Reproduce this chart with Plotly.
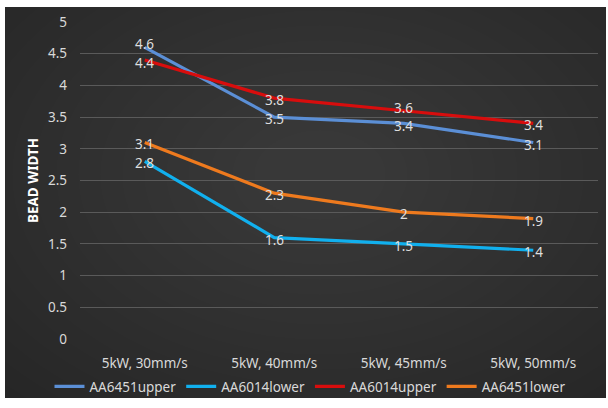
import plotly.graph_objects as go

categories = ["5kW, 30mm/s", "5kW, 40mm/s", "5kW, 45mm/s", "5kW, 50mm/s"]
series_names = ["AA6451upper", "AA6014lower", "AA6014upper", "AA6451lower"]
aa6451_upper = [4.6, 3.5, 3.4, 3.1]
aa6014_lower = [2.8, 1.6, 1.5, 1.4]
aa6014_upper = [4.4, 3.8, 3.6, 3.4]
aa6451_lower = [3.1, 2.3, 2.0, 1.9]
y_ticks = [0, 0.5, 1, 1.5, 2, 2.5, 3, 3.5, 4, 4.5, 5]

series_values = [aa6451_upper, aa6014_lower, aa6014_upper, aa6451_lower]
colors = ["#5b8fd6", "#11b0ee", "#d80d0d", "#ee7a1e"]
# small vertical nudges (px) for the value labels of each series, per point
label_shift = [[3, -2, -3, -3], [-2, -2, -2, -2], [-3, -2, 3, -2], [-2, -2, -2, -2]]

font_family = "Noto Sans, Open Sans, sans-serif"

fig = go.Figure()
annotations = []
for name, vals, col, shifts in zip(series_names, series_values, colors, label_shift):
    fig.add_trace(go.Scatter(
        x=categories, y=vals, name=name, mode="lines",
        line=dict(color=col, width=3.2),
    ))
    for c, v, s in zip(categories, vals, shifts):
        annotations.append(dict(x=c, y=v, xref="x", yref="y", text="%g" % v,
                                showarrow=False, yshift=s,
                                font=dict(color="#dedede", size=13.5, family=font_family)))

W, H = 608, 408
ml, mr, mt, mb = 80, 10, 22, 69
pw, ph = W - ml - mr, H - mt - mb

def px_x(p):
    return (p - ml) / pw

def px_y(p):
    return (H - mb - p) / ph

shapes = [dict(type="rect", xref="paper", yref="paper",
               x0=px_x(5), x1=px_x(606), y0=px_y(398), y1=px_y(7),
               fillcolor="#262626", line=dict(width=0), layer="below")]
cx, cy = 320, 175
n = 18
for i in range(n):
    rx = 440 - i * 22
    ry = 300 - i * 15
    shapes.append(dict(type="circle", xref="paper", yref="paper",
                       x0=px_x(cx - rx), x1=px_x(cx + rx),
                       y0=px_y(cy + ry), y1=px_y(cy - ry),
                       fillcolor="rgba(255,255,255,0.0095)", line=dict(width=0),
                       layer="below"))
# clip the glow back to the white outer margin
shapes += [
    dict(type="rect", xref="paper", yref="paper", x0=px_x(-200), x1=px_x(5),
         y0=px_y(600), y1=px_y(-200), fillcolor="white", line=dict(width=0), layer="below"),
    dict(type="rect", xref="paper", yref="paper", x0=px_x(606), x1=px_x(800),
         y0=px_y(600), y1=px_y(-200), fillcolor="white", line=dict(width=0), layer="below"),
    dict(type="rect", xref="paper", yref="paper", x0=px_x(-200), x1=px_x(800),
         y0=px_y(7), y1=px_y(-200), fillcolor="white", line=dict(width=0), layer="below"),
    dict(type="rect", xref="paper", yref="paper", x0=px_x(-200), x1=px_x(800),
         y0=px_y(600), y1=px_y(398), fillcolor="white", line=dict(width=0), layer="below"),
]

fig.update_layout(
    width=W, height=H,
    margin=dict(l=ml, r=mr, t=mt, b=mb, autoexpand=False),
    paper_bgcolor="white",
    plot_bgcolor="rgba(0,0,0,0)",
    shapes=shapes,
    annotations=annotations,
    font=dict(family=font_family, size=13, color="#d9d9d9"),
    showlegend=True,
    legend=dict(orientation="h", x=0.444, xanchor="center", y=px_y(371), yanchor="top",
                font=dict(size=13.5, color="#d9d9d9"), bgcolor="rgba(0,0,0,0)",
                itemwidth=30, tracegroupgap=0),
    xaxis=dict(type="category", range=[-0.5, 3.5], showgrid=False, zeroline=False,
               showline=False, ticks="", ticklabelstandoff=14,
               tickfont=dict(size=13.5, color="#d9d9d9")),
    yaxis=dict(range=[0, 5], tickvals=y_ticks, ticktext=["%g" % t for t in y_ticks],
               showgrid=True, gridcolor="#5a5a5a", gridwidth=1, zeroline=False,
               showline=False, ticks="", ticklabelstandoff=12,
               tickfont=dict(size=13.5, color="#d9d9d9"),
               title=dict(text="<b>BEAD WIDTH</b>", font=dict(size=13.5, color="white"),
                          standoff=6)),
)

fig.write_html("out.html")
